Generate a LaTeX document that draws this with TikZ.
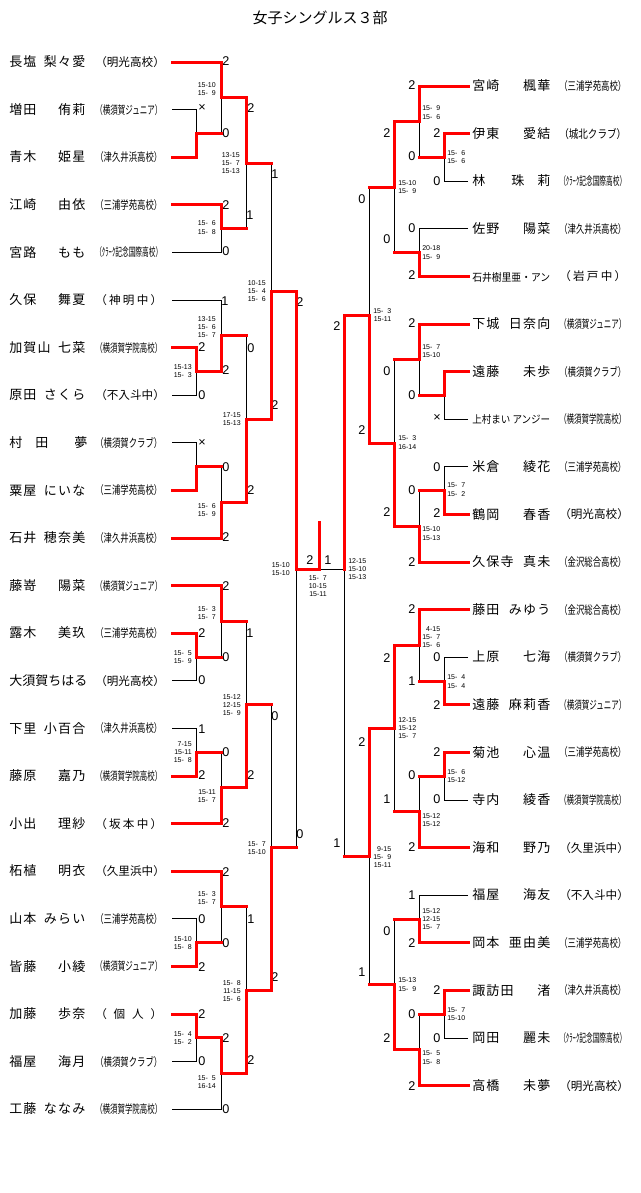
\documentclass[tikz,border=0pt]{standalone}
\usepackage{fontspec}
\usepackage{graphicx}
\setmainfont{Noto Sans CJK JP}
\newfontfamily\numfont{Liberation Sans}
\usetikzlibrary{calc}
\pgfdeclarelayer{top}
\pgfsetlayers{main,top}
\definecolor{bracketred}{RGB}{255,0,0}
\newlength\px \setlength\px{0.75pt}
\newlength\sqw
\newsavebox\sbx
\newcount\nodecnt
\newcommand\zz{\hphantom{0}}
\newcommand\distrib[2]{\makebox[#1][l]{\distA#2\relax}}
\def\distA#1{#1\distB}
\def\distB#1{\ifx\relax#1\else\hfill#1\expandafter\distB\fi}
\newcommand\lsp[1]{\lspA#1\relax}
\def\lspA#1{#1\lspB}
\def\lspB#1{\ifx\relax#1\else\kern1.2\px#1\expandafter\lspB\fi}
\newcommand\squeeze[2]{\sbox\sbx{#2}\setlength\sqw{\wd\sbx}\pgfmathsetmacro\sfac{#1/\sqw}\scalebox{\sfac}[1]{\usebox\sbx}}
\newcommand\schC[1]{\squeeze{50.25}{#1}}
\newcommand\schD[1]{\distrib{67\px}{#1}}
\newcommand\nmL[2]{\makebox[76\px][l]{\lsp{#1}\hfill\lsp{#2}}}
\newcommand\nmR[2]{\makebox[78\px][l]{\lsp{#1}\hfill\lsp{#2}}}
\tikzset{
  bk/.style={draw=black, line width=0.75pt},
  rd/.style={draw=bracketred, line width=2.25pt, line cap=rect},
  nm/.style={anchor=base west, inner sep=0pt, font=\fontsize{9.75pt}{11pt}\selectfont},
  sch/.style={anchor=base west, inner sep=0pt, font=\fontsize{8.7pt}{10pt}\selectfont},
  sc/.style={inner sep=0pt, font=\numfont\fontsize{9.5pt}{11pt}\selectfont},
  gm/.style={inner sep=0pt, align=right, font=\numfont\fontsize{5.25pt}{6.2pt}\selectfont},
  ttl/.style={inner sep=0pt, font=\fontsize{11.25pt}{13pt}\selectfont},
}
\newcommand\mkLP[3]{%
  \coordinate (L#1) at (172,{62+47.6*#1});
  \node[nm] (ln#1) at (9,{66.7+47.6*#1}) {#2};
  \node[sch] (ls#1) at (95,{66.4+47.6*#1}) {#3};}
\newcommand\mkRP[3]{%
  \coordinate (R#1) at (468,{86+47.6*#1});
  \node[nm] (rn#1) at (472,{90.7+47.6*#1}) {#2};
  \node[sch] (rs#1) at (559,{90.4+47.6*#1}) {#3};}
\newcommand\mkJ[4]{\coordinate (jt) at ($(#3)!0.5!(#4)$); \coordinate (#1) at (jt -| #2);}
\newcommand\mkWin[2]{\begin{pgfonlayer}{top}\draw[rd] (#1) -| (#2);\end{pgfonlayer}}
\newcommand\mkLoseP[2]{\draw[bk] (#1) -| (#2);}
\newcommand\mkLoseJ[2]{\draw[bk] (#1 -| #2) -- (#2);\begin{pgfonlayer}{top}\draw[rd] (#1) -- (#1 -| #2);\end{pgfonlayer}}
\newcommand\mkSc[3]{\global\advance\nodecnt by 1\relax\edef\tmpname{s\the\nodecnt}\node[sc] (\tmpname) at (#1,#2) {#3};}
\newcommand\mkGL[3]{\global\advance\nodecnt by 1\relax\edef\tmpname{g\the\nodecnt}\node[gm,anchor=east] (\tmpname) at (#1,#2) {#3};}
\newcommand\mkGR[3]{\global\advance\nodecnt by 1\relax\edef\tmpname{g\the\nodecnt}\node[gm,anchor=west] (\tmpname) at (#1,#2) {#3};}
\begin{document}
\begin{tikzpicture}[x=0.75pt,y=-0.75pt]
\useasboundingbox (0,0) rectangle (640,1193);
\node[ttl] (title) at (320,18) {女子シングルス３部};
% columns
\coordinate (xA) at (196,0); \coordinate (xB) at (221,0); \coordinate (xC) at (246,0);
\coordinate (xD) at (271,0); \coordinate (xE) at (296,0); \coordinate (xF) at (319,0);
\coordinate (xa) at (444,0); \coordinate (xb) at (419,0); \coordinate (xc) at (394,0);
\coordinate (xd) at (369,0); \coordinate (xe) at (344,0);
% left players
\mkLP{0}{\nmL{長塩}{梨々愛}}{\schD{（明光高校）}}
\mkLP{1}{\nmL{増田}{侑莉}}{\schC{（横須賀ジュニア）}}
\mkLP{2}{\nmL{青木}{姫星}}{\schC{（津久井浜高校）}}
\mkLP{3}{\nmL{江崎}{由依}}{\schC{（三浦学苑高校）}}
\mkLP{4}{\nmL{宮路}{もも}}{\schC{（ｸﾗｰｸ記念国際高校）}}
\mkLP{5}{\nmL{久保}{舞夏}}{\schD{（神明中）}}
\mkLP{6}{\nmL{加賀山}{七菜}}{\schC{（横須賀学院高校）}}
\mkLP{7}{\nmL{原田}{さくら}}{\schD{（不入斗中）}}
\mkLP{8}{\distrib{76\px}{村　田　　夢}}{\schC{（横須賀クラブ）}}
\mkLP{9}{\nmL{粟屋}{にいな}}{\schC{（三浦学苑高校）}}
\mkLP{10}{\nmL{石井}{穂奈美}}{\schC{（津久井浜高校）}}
\mkLP{11}{\nmL{藤嵜}{陽菜}}{\schC{（横須賀ジュニア）}}
\mkLP{12}{\nmL{露木}{美玖}}{\schC{（三浦学苑高校）}}
\mkLP{13}{\makebox[76\px][l]{大須賀\hfill ちはる}}{\schD{（明光高校）}}
\mkLP{14}{\nmL{下里}{小百合}}{\schC{（津久井浜高校）}}
\mkLP{15}{\nmL{藤原}{嘉乃}}{\schC{（横須賀学院高校）}}
\mkLP{16}{\nmL{小出}{理紗}}{\schD{（坂本中）}}
\mkLP{17}{\nmL{柘植}{明衣}}{\schD{（久里浜中）}}
\mkLP{18}{\nmL{山本}{みらい}}{\schC{（三浦学苑高校）}}
\mkLP{19}{\nmL{皆藤}{小綾}}{\schC{（横須賀ジュニア）}}
\mkLP{20}{\nmL{加藤}{歩奈}}{\schD{（個人）}}
\mkLP{21}{\nmL{福屋}{海月}}{\schC{（横須賀クラブ）}}
\mkLP{22}{\nmL{工藤}{ななみ}}{\schC{（横須賀学院高校）}}
% right players
\mkRP{0}{\nmR{宮崎}{楓華}}{\schC{（三浦学苑高校）}}
\mkRP{1}{\nmR{伊東}{愛結}}{\schC{（城北クラブ）}}
\mkRP{2}{\distrib{78\px}{林　　珠　莉}}{\schC{（ｸﾗｰｸ記念国際高校）}}
\mkRP{3}{\nmR{佐野}{陽菜}}{\schC{（津久井浜高校）}}
\mkRP{4}{\squeeze{58.5}{\fontsize{8pt}{9pt}\selectfont 石井樹里亜・アン}}{\schD{（岩戸中）}}
\mkRP{5}{\nmR{下城}{日奈向}}{\schC{（横須賀ジュニア）}}
\mkRP{6}{\nmR{遠藤}{未歩}}{\schC{（横須賀クラブ）}}
\mkRP{7}{\squeeze{58.5}{\fontsize{8pt}{9pt}\selectfont 上村まい アンジー}}{\schC{（横須賀学院高校）}}
\mkRP{8}{\nmR{米倉}{綾花}}{\schC{（三浦学苑高校）}}
\mkRP{9}{\nmR{鶴岡}{春香}}{\schD{（明光高校）}}
\mkRP{10}{\nmR{久保寺}{真未}}{\schC{（金沢総合高校）}}
\mkRP{11}{\nmR{藤田}{みゆう}}{\schC{（金沢総合高校）}}
\mkRP{12}{\nmR{上原}{七海}}{\schC{（横須賀クラブ）}}
\mkRP{13}{\nmR{遠藤}{麻莉香}}{\schC{（横須賀ジュニア）}}
\mkRP{14}{\nmR{菊池}{心温}}{\schC{（三浦学苑高校）}}
\mkRP{15}{\nmR{寺内}{綾香}}{\schC{（横須賀学院高校）}}
\mkRP{16}{\nmR{海和}{野乃}}{\schD{（久里浜中）}}
\mkRP{17}{\nmR{福屋}{海友}}{\schD{（不入斗中）}}
\mkRP{18}{\nmR{岡本}{亜由美}}{\schC{（三浦学苑高校）}}
\mkRP{19}{\nmR{諏訪田}{渚}}{\schC{（津久井浜高校）}}
\mkRP{20}{\nmR{岡田}{麗未}}{\schC{（ｸﾗｰｸ記念国際高校）}}
\mkRP{21}{\nmR{高橋}{未夢}}{\schD{（明光高校）}}
% left bracket
\mkJ{La1}{xA}{L1}{L2} \mkLoseP{L1}{La1} \mkWin{L2}{La1}
\mkJ{Lb1}{xB}{L0}{La1} \mkWin{L0}{Lb1} \mkLoseJ{La1}{Lb1}
\mkJ{Lb2}{xB}{L3}{L4} \mkWin{L3}{Lb2} \mkLoseP{L4}{Lb2}
\mkJ{Lc1}{xC}{Lb1}{Lb2} \mkWin{Lb1}{Lc1} \mkLoseJ{Lb2}{Lc1}
\mkJ{La2}{xA}{L6}{L7} \mkWin{L6}{La2} \mkLoseP{L7}{La2}
\mkJ{Lb3}{xB}{L5}{La2} \mkLoseP{L5}{Lb3} \mkWin{La2}{Lb3}
\mkJ{La3}{xA}{L8}{L9} \mkLoseP{L8}{La3} \mkWin{L9}{La3}
\mkJ{Lb4}{xB}{La3}{L10} \mkLoseJ{La3}{Lb4} \mkWin{L10}{Lb4}
\mkJ{Lc2}{xC}{Lb3}{Lb4} \mkLoseJ{Lb3}{Lc2} \mkWin{Lb4}{Lc2}
\mkJ{Ld1}{xD}{Lc1}{Lc2} \mkLoseJ{Lc1}{Ld1} \mkWin{Lc2}{Ld1}
\mkJ{La4}{xA}{L12}{L13} \mkWin{L12}{La4} \mkLoseP{L13}{La4}
\mkJ{Lb5}{xB}{L11}{La4} \mkWin{L11}{Lb5} \mkLoseJ{La4}{Lb5}
\mkJ{La5}{xA}{L14}{L15} \mkLoseP{L14}{La5} \mkWin{L15}{La5}
\mkJ{Lb6}{xB}{La5}{L16} \mkLoseJ{La5}{Lb6} \mkWin{L16}{Lb6}
\mkJ{Lc3}{xC}{Lb5}{Lb6} \mkLoseJ{Lb5}{Lc3} \mkWin{Lb6}{Lc3}
\mkJ{La6}{xA}{L18}{L19} \mkLoseP{L18}{La6} \mkWin{L19}{La6}
\mkJ{Lb7}{xB}{L17}{La6} \mkWin{L17}{Lb7} \mkLoseJ{La6}{Lb7}
\mkJ{La7}{xA}{L20}{L21} \mkWin{L20}{La7} \mkLoseP{L21}{La7}
\mkJ{Lb8}{xB}{La7}{L22} \mkWin{La7}{Lb8} \mkLoseP{L22}{Lb8}
\mkJ{Lc4}{xC}{Lb7}{Lb8} \mkLoseJ{Lb7}{Lc4} \mkWin{Lb8}{Lc4}
\mkJ{Ld2}{xD}{Lc3}{Lc4} \mkLoseJ{Lc3}{Ld2} \mkWin{Lc4}{Ld2}
\mkJ{Le}{xE}{Ld1}{Ld2} \mkWin{Ld1}{Le} \mkLoseJ{Ld2}{Le}
% right bracket
\mkJ{Ra1}{xa}{R1}{R2} \mkWin{R1}{Ra1} \mkLoseP{R2}{Ra1}
\mkJ{Rb1}{xb}{R0}{Ra1} \mkWin{R0}{Rb1} \mkLoseJ{Ra1}{Rb1}
\mkJ{Rb2}{xb}{R3}{R4} \mkLoseP{R3}{Rb2} \mkWin{R4}{Rb2}
\mkJ{Rc1}{xc}{Rb1}{Rb2} \mkWin{Rb1}{Rc1} \mkLoseJ{Rb2}{Rc1}
\mkJ{Ra2}{xa}{R6}{R7} \mkWin{R6}{Ra2} \mkLoseP{R7}{Ra2}
\mkJ{Rb3}{xb}{R5}{Ra2} \mkWin{R5}{Rb3} \mkLoseJ{Ra2}{Rb3}
\mkJ{Ra3}{xa}{R8}{R9} \mkLoseP{R8}{Ra3} \mkWin{R9}{Ra3}
\mkJ{Rb4}{xb}{Ra3}{R10} \mkLoseJ{Ra3}{Rb4} \mkWin{R10}{Rb4}
\mkJ{Rc2}{xc}{Rb3}{Rb4} \mkLoseJ{Rb3}{Rc2} \mkWin{Rb4}{Rc2}
\mkJ{Rd1}{xd}{Rc1}{Rc2} \mkLoseJ{Rc1}{Rd1} \mkWin{Rc2}{Rd1}
\mkJ{Ra4}{xa}{R12}{R13} \mkLoseP{R12}{Ra4} \mkWin{R13}{Ra4}
\mkJ{Rb5}{xb}{R11}{Ra4} \mkWin{R11}{Rb5} \mkLoseJ{Ra4}{Rb5}
\mkJ{Ra5}{xa}{R14}{R15} \mkWin{R14}{Ra5} \mkLoseP{R15}{Ra5}
\mkJ{Rb6}{xb}{Ra5}{R16} \mkLoseJ{Ra5}{Rb6} \mkWin{R16}{Rb6}
\mkJ{Rc3}{xc}{Rb5}{Rb6} \mkWin{Rb5}{Rc3} \mkLoseJ{Rb6}{Rc3}
\mkJ{Rb7}{xb}{R17}{R18} \mkLoseP{R17}{Rb7} \mkWin{R18}{Rb7}
\mkJ{Ra6}{xa}{R19}{R20} \mkWin{R19}{Ra6} \mkLoseP{R20}{Ra6}
\mkJ{Rb8}{xb}{Ra6}{R21} \mkLoseJ{Ra6}{Rb8} \mkWin{R21}{Rb8}
\mkJ{Rc4}{xc}{Rb7}{Rb8} \mkLoseJ{Rb7}{Rc4} \mkWin{Rb8}{Rc4}
\mkJ{Rd2}{xd}{Rc3}{Rc4} \mkWin{Rc3}{Rd2} \mkLoseJ{Rc4}{Rd2}
\coordinate (Re) at (Le -| xe);
\mkWin{Rd1}{Re} \mkLoseJ{Rd2}{Re}
% final
\coordinate (Fm) at (Le -| xF);
\coordinate (Ft) at (319,522);
\draw[bk] (Re) -- (Fm);
\begin{pgfonlayer}{top}\draw[rd] (Le) -- (Fm) -- (Ft);\end{pgfonlayer}
% left scores
\mkSc{202}{108}{×} \mkSc{226}{61}{2} \mkSc{226}{133}{0} \mkSc{251}{108}{2}
\mkSc{226}{205}{2} \mkSc{250}{215}{1} \mkSc{226}{251}{0} \mkSc{275}{174}{1}
\mkSc{225}{301}{1} \mkSc{202}{347}{2} \mkSc{251}{348}{0} \mkSc{226}{370}{2}
\mkSc{202}{395}{0} \mkSc{275}{405}{2} \mkSc{202}{443}{×} \mkSc{226}{467}{0}
\mkSc{251}{490}{2} \mkSc{226}{537}{2} \mkSc{300}{302}{2}
\mkSc{226}{586}{2} \mkSc{202}{633}{2} \mkSc{250}{633}{1} \mkSc{226}{657}{0}
\mkSc{202}{680}{0} \mkSc{275}{716}{0} \mkSc{202}{729}{1} \mkSc{226}{752}{0}
\mkSc{202}{775}{2} \mkSc{251}{775}{2} \mkSc{226}{823}{2} \mkSc{300}{834}{0}
\mkSc{226}{872}{2} \mkSc{202}{919}{0} \mkSc{251}{919}{1} \mkSc{226}{943}{0}
\mkSc{202}{967}{2} \mkSc{275}{977}{2} \mkSc{202}{1014}{2} \mkSc{226}{1038}{2}
\mkSc{251}{1060}{2} \mkSc{202}{1061}{0} \mkSc{226}{1109}{0}
\mkSc{310}{560}{2} \mkSc{328}{560}{1}
% right scores
\mkSc{412}{85}{2} \mkSc{387}{133}{2} \mkSc{437}{133}{2} \mkSc{412}{156}{0}
\mkSc{437}{181}{0} \mkSc{362}{199}{0} \mkSc{412}{228}{0} \mkSc{387}{239}{0}
\mkSc{412}{275}{2} \mkSc{412}{323}{2} \mkSc{337}{326}{2} \mkSc{387}{371}{0}
\mkSc{412}{395}{0} \mkSc{437}{418}{×} \mkSc{362}{430}{2} \mkSc{437}{467}{0}
\mkSc{412}{490}{0} \mkSc{387}{512}{2} \mkSc{437}{513}{2} \mkSc{412}{562}{2}
\mkSc{412}{609}{2} \mkSc{387}{658}{2} \mkSc{437}{657}{0} \mkSc{412}{681}{1}
\mkSc{437}{705}{2} \mkSc{362}{742}{2} \mkSc{437}{752}{2} \mkSc{412}{775}{0}
\mkSc{387}{799}{1} \mkSc{437}{799}{0} \mkSc{337}{843}{1} \mkSc{412}{847}{2}
\mkSc{412}{895}{1} \mkSc{387}{931}{0} \mkSc{412}{943}{2} \mkSc{362}{972}{1}
\mkSc{437}{990}{2} \mkSc{412}{1014}{0} \mkSc{387}{1038}{2} \mkSc{437}{1038}{0}
\mkSc{412}{1086}{2}
% left game scores
\mkGL{216}{89}{15-10\\15-\zz9}
\mkGL{240}{163}{13-15\\15-\zz7\\15-13}
\mkGL{216}{227.5}{15-\zz6\\15-\zz8}
\mkGL{266}{291}{10-15\\15-\zz4\\15-\zz6}
\mkGL{216}{327}{13-15\\15-\zz6\\15-\zz7}
\mkGL{192}{371}{15-13\\15-\zz3}
\mkGL{241}{419}{17-15\\15-13}
\mkGL{216}{510}{15-\zz6\\15-\zz9}
\mkGL{290}{569}{15-10\\15-10}
\mkGL{216}{613}{15-\zz3\\15-\zz7}
\mkGL{192}{657}{15-\zz5\\15-\zz9}
\mkGL{241}{705}{15-12\\12-15\\15-\zz9}
\mkGL{192}{752}{7-15\\15-11\\15-\zz8}
\mkGL{216}{796}{15-11\\15-\zz7}
\mkGL{266}{848}{15-\zz7\\15-10}
\mkGL{216}{898}{15-\zz3\\15-\zz7}
\mkGL{192}{943}{15-10\\15-\zz8}
\mkGL{241}{991}{15-\zz8\\11-15\\15-\zz6}
\mkGL{192}{1038}{15-\zz4\\15-\zz2}
\mkGL{216}{1082}{15-\zz5\\16-14}
\mkGL{327}{586}{15-\zz7\\10-15\\15-11}
% right game scores
\mkGR{348}{569}{12-15\\15-10\\15-13}
\mkGR{398}{187}{15-10\\15-\zz9}
\mkGR{422}{112.5}{15-\zz9\\15-\zz6}
\mkGR{447}{157}{15-\zz6\\15-\zz6}
\mkGR{422}{252.5}{20-18\\15-\zz9}
\mkGR{373}{315}{15-\zz3\\15-11}
\mkGR{422}{351}{15-\zz7\\15-10}
\mkGR{398}{442.5}{15-\zz3\\16-14}
\mkGR{447}{489.5}{15-\zz7\\15-\zz2}
\mkGR{422}{533.5}{15-10\\15-13}
\mkGR{422}{637}{4-15\\15-\zz7\\15-\zz6}
\mkGR{447}{681.5}{15-\zz4\\15-\zz4}
\mkGR{398}{728}{12-15\\15-12\\15-\zz7}
\mkGR{447}{776}{15-\zz6\\15-12}
\mkGR{422}{820}{15-12\\15-12}
\mkGR{373}{857}{9-15\\15-\zz9\\15-11}
\mkGR{422}{919}{15-12\\12-15\\15-\zz7}
\mkGR{398}{984.5}{15-13\\15-\zz9}
\mkGR{447}{1014}{15-\zz7\\15-10}
\mkGR{422}{1057.5}{15-\zz5\\15-\zz8}
\end{tikzpicture}
\end{document}
